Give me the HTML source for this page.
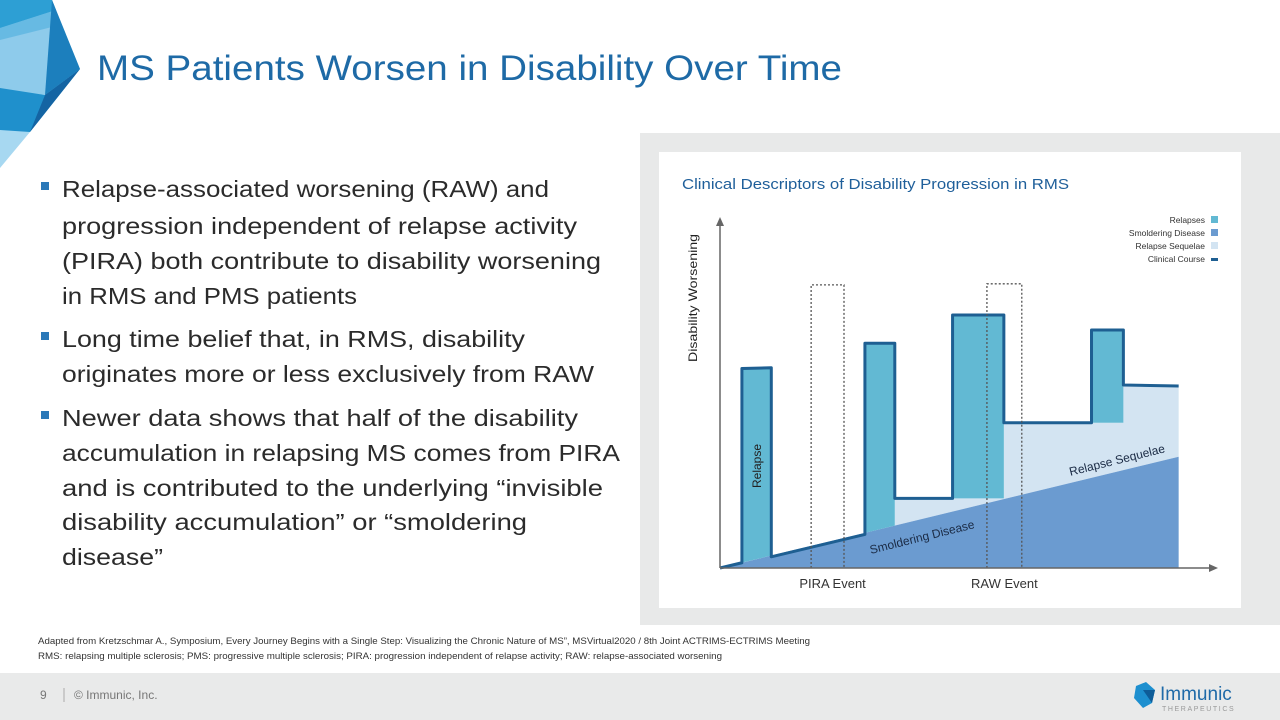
<!DOCTYPE html>
<html><head><meta charset="utf-8">
<style>
html,body{margin:0;padding:0;background:#fff;}
svg{display:block;font-family:"Liberation Sans",sans-serif;}
</style></head>
<body>
<svg width="1280" height="720" viewBox="0 0 1280 720">
  <g>
    <polygon points="0,0 52,0 80,69 45,95 0,90" fill="#8ecbeb"/>
    <polygon points="0,0 52,0 56,10 0,28" fill="#2d9fd4"/>
    <polygon points="0,28 56,10 60,25 0,40" fill="#3fa9dc" opacity="0.5"/>
    <polygon points="52,0 80,69 45,95" fill="#1c7fbd"/>
    <polygon points="0,88 45,95 80,69 30,132 0,132" fill="#1f90cc"/>
    <polygon points="45,95 80,69 30,132" fill="#1464a3"/>
    <polygon points="0,130 30,132 0,168" fill="#a7d8f1"/>
  </g>
  <text x="97" y="80" font-size="35" fill="#1e6aa6" textLength="745" lengthAdjust="spacingAndGlyphs">MS Patients Worsen in Disability Over Time</text>

  <g font-size="23" fill="#2b2b2b">
    <rect x="41" y="182" width="8" height="8" fill="#2a78b8"/>
    <rect x="41" y="332" width="8" height="8" fill="#2a78b8"/>
    <rect x="41" y="411" width="8" height="8" fill="#2a78b8"/>
    <text x="62" y="197" textLength="487" lengthAdjust="spacingAndGlyphs">Relapse-associated worsening (RAW) and</text>
    <text x="62" y="234" textLength="515" lengthAdjust="spacingAndGlyphs">progression independent of relapse activity</text>
    <text x="62" y="269" textLength="539" lengthAdjust="spacingAndGlyphs">(PIRA) both contribute to disability worsening</text>
    <text x="62" y="304" textLength="295" lengthAdjust="spacingAndGlyphs">in RMS and PMS patients</text>
    <text x="62" y="347" textLength="463" lengthAdjust="spacingAndGlyphs">Long time belief that, in RMS, disability</text>
    <text x="62" y="382" textLength="532" lengthAdjust="spacingAndGlyphs">originates more or less exclusively from RAW</text>
    <text x="62" y="426" textLength="516" lengthAdjust="spacingAndGlyphs">Newer data shows that half of the disability</text>
    <text x="62" y="461" textLength="558" lengthAdjust="spacingAndGlyphs">accumulation in relapsing MS comes from PIRA</text>
    <text x="62" y="496" textLength="541" lengthAdjust="spacingAndGlyphs">and is contributed to the underlying “invisible</text>
    <text x="62" y="530" textLength="465" lengthAdjust="spacingAndGlyphs">disability accumulation” or “smoldering</text>
    <text x="62" y="565" textLength="101" lengthAdjust="spacingAndGlyphs">disease”</text>
  </g>

  <rect x="640" y="133" width="640" height="492" fill="#e8e9e9"/>
  <rect x="659" y="152" width="582" height="456" fill="#ffffff"/>
  <text x="682" y="189" font-size="15" fill="#1f5f9a" textLength="387" lengthAdjust="spacingAndGlyphs">Clinical Descriptors of Disability Progression in RMS</text>
  <g id="chart"></g>

  <g font-size="9.5" fill="#333">
    <text x="38" y="644" textLength="772" lengthAdjust="spacingAndGlyphs">Adapted from Kretzschmar A., Symposium, Every Journey Begins with a Single Step: Visualizing the Chronic Nature of MS”, MSVirtual2020 / 8th Joint ACTRIMS-ECTRIMS Meeting</text>
    <text x="38" y="659" textLength="684" lengthAdjust="spacingAndGlyphs">RMS: relapsing multiple sclerosis; PMS: progressive multiple sclerosis; PIRA: progression independent of relapse activity; RAW: relapse-associated worsening</text>
  </g>
  <rect x="0" y="673" width="1280" height="47" fill="#e9eaea"/>
  <text x="40" y="699" font-size="12" fill="#777">9</text>
  <line x1="64" y1="688" x2="64" y2="702" stroke="#aaa"/>
  <text x="74" y="699" font-size="12" fill="#777">© Immunic, Inc.</text>
  <g>
    <polygon points="1136,686 1146,682 1155,690 1152,703 1143,708 1134,698" fill="#1d8fcf"/>
    <polygon points="1143,690 1155,690 1152,703" fill="#0e5c98"/>
    <text x="1160" y="700" font-size="19" fill="#1f6aa8">Immunic</text>
    <text x="1162" y="711" font-size="7" fill="#999" letter-spacing="1.6">THERAPEUTICS</text>
  </g>
</svg>
<script>
// time axis 0..100, value axis 0..100
const courseT = [0, 4.4, 4.4, 10.3, 10.3, 29.1, 29.1, 35.1, 35.1, 46.7, 46.7, 57, 57, 74.6, 74.6, 81, 81, 92.1];
const courseV = [0, 1.5, 57, 57.2, 3.2, 9.6, 64.2, 64.2, 19.9, 19.9, 72.3, 72.3, 41.5, 41.5, 68, 68, 52.3, 52];
const smolderEndT = 92.1;
const smolderEndV = 31.8;
const relapseStart = [4.4, 29.1, 46.7, 74.6];
const relapseEnd = [10.3, 35.1, 57, 81];
const relapseTop = [57, 64.2, 72.3, 68];
const relapseBase = [null, null, 19.9, 41.5];
const eventNames = ['PIRA Event', 'RAW Event'];
const eventStart = [18.3, 53.6];
const eventEnd = [24.9, 60.6];
const eventTop = [80.9, 81.2];
const legendLabels = ['Relapses', 'Smoldering Disease', 'Relapse Sequelae', 'Clinical Course'];

const X0 = 720, X1 = 1218, Y0 = 568, Y1 = 217;
const xs = t => X0 + t * 4.98;
const ys = v => Y0 - v * 3.5;
const smold = t => smolderEndV * t / smolderEndT;
const NS = 'http://www.w3.org/2000/svg';
const g = document.getElementById('chart');
function mk(tag, attrs, parent) {
  const e = document.createElementNS(NS, tag);
  for (const k in attrs) e.setAttribute(k, attrs[k]);
  (parent || g).appendChild(e);
  return e;
}
{
  const pts = [[35.1, 19.9], [57, 19.9], [57, 41.5], [81, 41.5], [81, 52.3], [92.1, 52]];
  let d = pts.map(p => xs(p[0]) + ',' + ys(p[1])).join(' ');
  d += ' ' + xs(92.1) + ',' + ys(smold(92.1)) + ' ' + xs(35.1) + ',' + ys(smold(35.1));
  const e = mk('polygon', {points: d, fill: '#d3e4f2'});
  
  
}
{
  const e = mk('polygon', {points: `${xs(0)},${ys(0)} ${xs(smolderEndT)},${ys(smolderEndV)} ${xs(smolderEndT)},${ys(0)}`, fill: '#6b9bd0'});
  
  
}
relapseStart.forEach((s, i) => {
  const en = relapseEnd[i];
  const b0 = relapseBase[i] === null ? smold(s) : relapseBase[i];
  const b1 = relapseBase[i] === null ? smold(en) : relapseBase[i];
  const e = mk('polygon', {points: `${xs(s)},${ys(relapseTop[i])} ${xs(en)},${ys(relapseTop[i])} ${xs(en)},${ys(b1)} ${xs(s)},${ys(b0)}`, fill: '#62b9d3'});
  
  
});
{
  const e = mk('polyline', {points: courseT.map((t, i) => xs(t) + ',' + ys(courseV[i])).join(' '), fill: 'none', stroke: '#1e5f92', 'stroke-width': 3, 'stroke-linejoin': 'round'});
  
  
}
eventStart.forEach((s, i) => {
  const e = mk('polyline', {points: `${xs(s)},${ys(0)} ${xs(s)},${ys(eventTop[i])} ${xs(eventEnd[i])},${ys(eventTop[i])} ${xs(eventEnd[i])},${ys(0)}`, fill: 'none', stroke: '#555', 'stroke-width': 1.3, 'stroke-dasharray': '2,2'});
  
  
  const t = mk('text', {x: (xs(s) + xs(eventEnd[i])) / 2 + (i === 0 ? 5 : 0), y: 588, 'font-size': 13, fill: '#333', 'text-anchor': 'middle'});
  t.textContent = eventNames[i];
  
  
});
{
  const a = mk('line', {x1: X0, y1: Y0, x2: X1 - 6, y2: Y0, stroke: '#666', 'stroke-width': 1.5});
  
  
  const ah = mk('polygon', {points: `${X1},${Y0} ${X1 - 9},${Y0 - 4} ${X1 - 9},${Y0 + 4}`, fill: '#666'});
  
  
  const b = mk('line', {x1: X0, y1: Y0, x2: X0, y2: Y1 + 6, stroke: '#666', 'stroke-width': 1.5});
  
  
  const bh = mk('polygon', {points: `${X0},${Y1} ${X0 - 4},${Y1 + 9} ${X0 + 4},${Y1 + 9}`, fill: '#666'});
  
  
  const yt = mk('text', {x: 0, y: 0, 'font-size': 12, fill: '#222', 'text-anchor': 'middle', transform: 'translate(697,298) rotate(-90)', textLength: 128, lengthAdjust: 'spacingAndGlyphs'});
  yt.textContent = 'Disability Worsening';
  
  
}
{
  const r = mk('text', {x: 0, y: 0, 'font-size': 12, fill: '#222', 'text-anchor': 'middle', transform: 'translate(761,466) rotate(-90)'});
  r.textContent = 'Relapse';
  
  
  const s = mk('text', {x: 0, y: 0, 'font-size': 12, fill: '#1b2b45', 'text-anchor': 'middle', transform: 'translate(923,541) rotate(-14)'});
  s.textContent = 'Smoldering Disease';
  
  
  const q = mk('text', {x: 0, y: 0, 'font-size': 12, fill: '#1b2b45', 'text-anchor': 'middle', transform: 'translate(1118,464) rotate(-14)'});
  q.textContent = 'Relapse Sequelae';
  
  
}
const legendColors = ['#62b9d3', '#6b9bd0', '#d3e4f2', '#1e5f92'];
legendLabels.forEach((l, i) => {
  const y = 220 + i * 13;
  const t = mk('text', {x: 1205, y: y + 3, 'font-size': 8.5, fill: '#333', 'text-anchor': 'end'});
  t.textContent = l;
  
  
  const sw = i === 3 ? mk('rect', {x: 1211, y: y - 1, width: 7, height: 3, fill: legendColors[i]}) : mk('rect', {x: 1211, y: y - 4, width: 7, height: 7, fill: legendColors[i]});
  
  
});
</script>
</body></html>
